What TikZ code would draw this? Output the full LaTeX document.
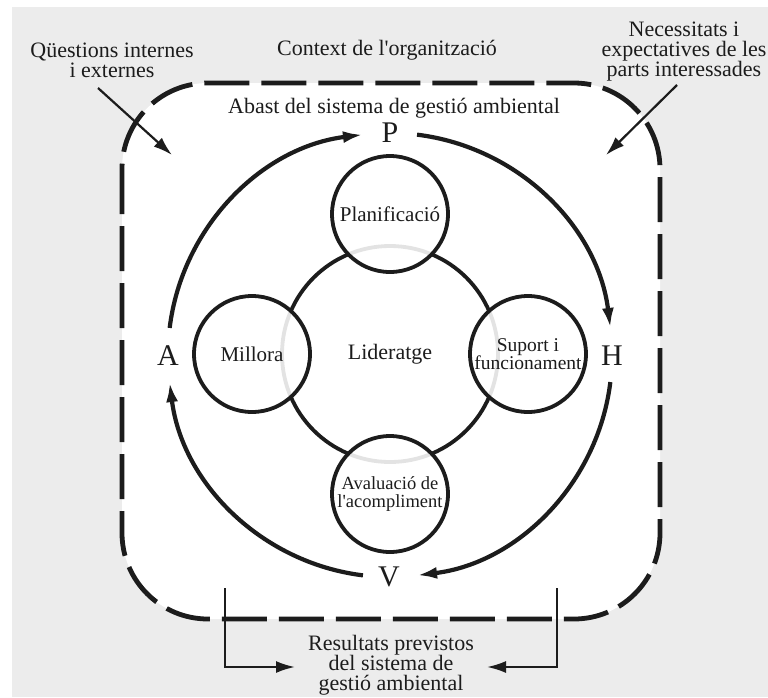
\documentclass[tikz,border=0pt]{standalone}
\usepackage{fontspec}
\setmainfont{Liberation Serif}
\usetikzlibrary{arrows.meta,
                positioning}
\definecolor{paper}{HTML}{ECECEC}
\definecolor{ink}{HTML}{1C1C1C}
\tikzset{stage/.style =
   {circle,
    draw=ink,
    line width=3.8pt,
    fill=white,
    fill opacity=0.88,
    text opacity=1,
    text=ink,
    align=center,
    inner sep=0pt,
    minimum size=116pt,
    font=\fontsize{21}{18}\selectfont}}
\tikzset{core/.style =
   {circle,
    draw=ink,
    line width=3.8pt,
    text=ink,
    inner sep=0pt,
    minimum size=216pt,
    font=\fontsize{22}{20}\selectfont}}
\tikzset{letter/.style =
   {text=ink,
    inner sep=0pt,
    font=\fontsize{30}{30}\selectfont}}
\tikzset{caption/.style =
   {text=ink,
    align=center,
    inner sep=0pt,
    font=\fontsize{22}{20}\selectfont}}
\tikzset{pdca/.style = {draw=ink, line width=4.2pt, -{Latex[length=20pt,width=12pt]}}}
\tikzset{feed/.style = {draw=ink, line width=2.2pt, -{Latex[length=19pt,width=12pt]}}}
\tikzset{boundary/.style =
   {draw=ink,
    line width=4.8pt,
    dash pattern=on 45pt off 12pt,
    rounded corners=86pt}}

\begin{document}
\begin{tikzpicture}[auto, x=1pt, y=1pt]

    % canvas and the dashed scope
    \useasboundingbox (0,0) rectangle (768,-697);
    \fill[paper] (12,-7) rectangle (768,-697);
    \fill[white, rounded corners=86pt] (122,-83) rectangle (660,-619);
    \draw[boundary] (122,-83) rectangle (660,-619);

    % PDCA ring
    \coordinate (ring) at (390,-355);
    \node[letter] (P) at (390,-133) {P};
    \node[letter] (H) at (612,-356) {H};
    \node[letter] (V) at (389,-577) {V};
    \node[letter] (A) at (168,-356) {A};

    \draw[pdca] ([shift={(173:222pt)}]ring) arc[start angle=173, end angle=97, radius=222pt];
    \draw[pdca] ([shift={(83:222pt)}]ring) arc[start angle=83, end angle=7, radius=222pt];
    \draw[pdca] ([shift={(-7:222pt)}]ring) arc[start angle=-7, end angle=-83, radius=222pt];
    \draw[pdca] ([shift={(263:222pt)}]ring) arc[start angle=263, end angle=187, radius=222pt];

    % leadership and the four stages
    \node[core] (lead) at (390,-354) {Lideratge};
    \node[stage] (plan) at (390,-214) {Planificació};
    \node[stage] (improve) at (252,-354) {Millora};
    \node[stage, font=\fontsize{19.5}{18}\selectfont] (support) at (528,-354)
        {Suport i\\funcionament};
    \node[stage, font=\fontsize{18.5}{18}\selectfont] (check) at (390,-494)
        {Avaluació de\\l\textquotesingle acompliment};

    % outside texts
    \node[caption] (issues) at (112,-60) {Qüestions internes\\i externes};
    \node[caption] (context) at (387,-50) {Context de l\textquotesingle organització};
    \node[caption] (needs) at (684,-52) {Necessitats i\\expectatives de les\\parts interessades};
    \node[caption] (reach) at (394,-108) {Abast del sistema de gestió ambiental};
    \node[caption] (results) at (391,-665) {Resultats previstos\\del sistema de\\gestió ambiental};

    % inputs and outputs
    \coordinate (issuesTail) at (98,-88);
    \coordinate (issuesHead) at (172,-155);
    \coordinate (needsTail) at (677,-85);
    \coordinate (needsHead) at (606,-155);
    \coordinate (outL) at (225,-588);
    \coordinate (inL) at (295,-667);
    \coordinate (outR) at (557,-588);
    \coordinate (inR) at (487,-667);

    \draw[feed] (issuesTail) -- (issuesHead);
    \draw[feed] (needsTail) -- (needsHead);
    \draw[feed] (outL) |- (inL);
    \draw[feed] (outR) |- (inR);

\end{tikzpicture}
\end{document}
